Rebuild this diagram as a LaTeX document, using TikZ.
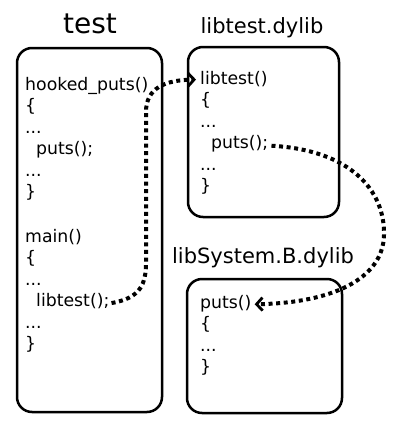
\documentclass[tikz,border=0pt]{standalone}
\usepackage{fontspec}
\setmainfont{DejaVu Sans}
\usetikzlibrary{arrows.meta}
\begin{document}
\begin{tikzpicture}[x=1pt,y=-1pt,
  box/.style={draw,line width=2.5pt,rounded corners=15pt},
  code/.style={anchor=base west,inner sep=0pt,font=\fontsize{17.3}{20}\selectfont},
  ttl/.style={anchor=base,inner sep=0pt,font=\fontsize{21}{24}\selectfont},
  call/.style={line width=4pt,dash pattern=on 4pt off 3.6pt,
    -{Straight Barb[length=6pt,width=13pt,line width=2.8pt]}}]
\useasboundingbox (0,0) rectangle (400,429);
% boxes
\draw[box] (17,48) rectangle (162,412);
\draw[box] (188,47) rectangle (339,217);
\draw[box] (187,279) rectangle (342,413);
% titles
\node[ttl,font=\fontsize{28}{32}\selectfont] (t1) at (90,33) {test};
\node[ttl] (t2) at (262,33) {libtest.dylib};
\node[ttl] (t3) at (263,263) {libSystem.B.dylib};
% test code
\node[code] (a1) at (25,90) {hooked\_puts()};
\node[code] (a2) at (25,111.5) {\{};
\node[code] (a3) at (25,133) {...};
\node[code] (a4) at (36,154.5) {puts();};
\node[code] (a5) at (25,176) {...};
\node[code] (a6) at (25,197.5) {\}};
\node[code] (b1) at (25,242) {main()};
\node[code] (b2) at (25,263.5) {\{};
\node[code] (b3) at (25,285) {...};
\node[code] (lt) at (36,306.5) {libtest();};
\node[code] (b5) at (25,328) {...};
\node[code] (b6) at (25,349.5) {\}};
% libtest code
\node[code] (ltf) at (200,84) {libtest()};
\node[code] (c2) at (200,105.5) {\{};
\node[code] (c3) at (200,127) {...};
\node[code] (pc) at (211,148.5) {puts();};
\node[code] (c5) at (200,170) {...};
\node[code] (c6) at (200,191.5) {\}};
% libSystem code
\node[code] (ps) at (200,308) {puts()};
\node[code] (d2) at (200,329.5) {\{};
\node[code] (d3) at (200,351) {...};
\node[code] (d4) at (200,372.5) {\}};
% calls
\draw[call] ([xshift=2pt,yshift=-2pt]lt.east) .. controls (140,298) and (146,285) .. (146,262)
  -- (146,112) .. controls (146,88) and (165,80) .. ([xshift=-4pt,yshift=-1pt]ltf.west);
\draw[call] ([xshift=3pt,yshift=-2pt]pc.east) .. controls (350,150) and (385,190) .. (384,235)
  .. controls (383,280) and (330,303) .. ([xshift=3pt,yshift=-1pt]ps.east);
\end{tikzpicture}
\end{document}
